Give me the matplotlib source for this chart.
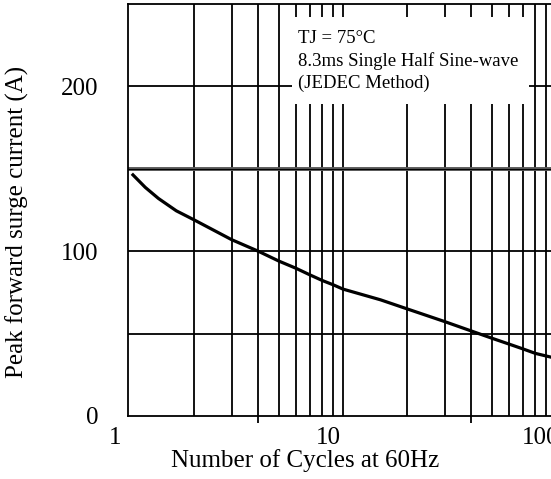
import matplotlib
matplotlib.use("Agg")
import matplotlib.pyplot as plt
import matplotlib.transforms as mtransforms
from matplotlib.patches import Rectangle

plt.rcParams['font.family'] = ['Liberation Serif', 'DejaVu Serif']

# data
cycles = [1.02, 1.18, 1.36, 1.65, 2, 3, 4, 5, 6, 7, 8, 9, 10, 15, 20, 30, 40, 50, 60, 70, 80, 90, 100]
current = [147, 138.7, 132, 124.5, 119, 107, 100, 94, 89.7, 85.6, 82.2, 79.6, 77, 70.5, 65, 57.3, 51.6, 47.2, 43.7, 40.7, 38, 36.4, 35]

x_grid = [2, 3, 4, 5, 6, 7, 8, 9, 10, 20, 30, 40, 50, 60, 70, 80, 90, 100]
y_grid = [50, 100, 200]
y_grid_double = [150]
x_ticks = [1, 10, 100]
x_ticklabels = ["1", "10", "100"]
x_marks = [4, 40]
y_ticks = [0, 100, 200]
y_ticklabels = ["0", "100", "200"]
note_lines = ["TJ = 75\u00b0C", "8.3ms Single Half Sine-wave", "(JEDEC Method)"]

W, H = 551, 479
fig = plt.figure(figsize=(W / 100, H / 100), dpi=100)
ax_l, ax_r, ax_t, ax_b = 128, 600, 4, 416
ax = fig.add_axes([ax_l / W, 1 - ax_b / H, (ax_r - ax_l) / W, (ax_b - ax_t) / H])

ax.set_xscale('log')
ax.set_xlim(0.9786, 10 ** ((ax_r - 130) / 213))
ax.set_ylim(0, 250)

lw_grid = 1.3
for xv in x_grid:
    ax.axvline(xv, color='black', lw=lw_grid, zorder=1)
for yv in y_grid:
    ax.axhline(yv, color='black', lw=lw_grid, zorder=1)
for yv in y_grid_double:
    ax.axhline(yv, color='#5a5a5a', lw=2.8, zorder=1)
    ax.axhline(yv, color='black', lw=0.8, zorder=1.1)

# white note box covering grid
ax.add_patch(Rectangle((0.3475, 0.757), 0.8496 - 0.3475, 0.9684 - 0.757,
                       transform=ax.transAxes, facecolor='white',
                       edgecolor='none', zorder=2))
ax.text(0.360, 0.938, "\n".join(note_lines), transform=ax.transAxes,
        ha='left', va='top', fontsize=13.5, linespacing=1.38, zorder=3)

ax.plot(cycles, current, color='black', lw=2.3, zorder=4,
        solid_capstyle='butt', solid_joinstyle='round')

for s in ax.spines.values():
    s.set_linewidth(lw_grid)
    s.set_zorder(5)

ax.set_xticks(x_ticks)
ax.set_xticklabels(x_ticklabels, fontsize=18)
ax.set_xticks(x_marks, minor=True)
ax.set_xticklabels([], minor=True)
ax.tick_params(axis='x', which='major', length=0, pad=8)
ax.tick_params(axis='x', which='minor', length=5, width=1.3, direction='out')
offset = mtransforms.ScaledTranslation(-15 / 100, 0, fig.dpi_scale_trans)
for lab in ax.get_xticklabels():
    lab.set_transform(lab.get_transform() + offset)

ax.set_yticks(y_ticks)
ax.set_yticklabels(y_ticklabels, fontsize=18)
ax.tick_params(axis='y', length=0, pad=21)

ax.set_xlabel("Number of Cycles at 60Hz", fontsize=18)
ax.xaxis.set_label_coords((305 - ax_l) / (ax_r - ax_l), (ax_b - 449) / (ax_b - ax_t))
ax.set_ylabel("Peak forward surge current (A)", fontsize=18)
ax.yaxis.set_label_coords((17 - ax_l) / (ax_r - ax_l), (ax_b - 222) / (ax_b - ax_t))
ax.yaxis.label.set_va('center')

fig.savefig("out.png", dpi=100)
